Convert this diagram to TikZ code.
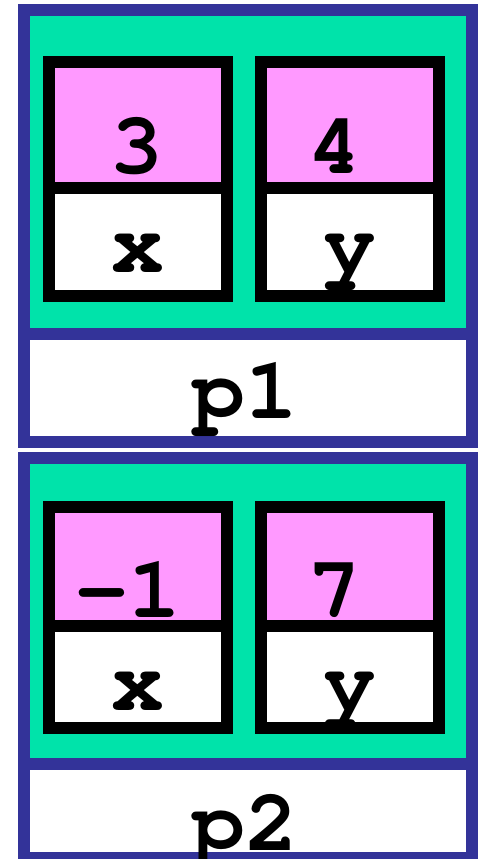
\documentclass[tikz,border=0pt]{standalone}
\usepackage[T1]{fontenc}
\usepackage{courier}
\definecolor{objblue}{RGB}{51,51,153}
\definecolor{objgreen}{RGB}{0,227,170}
\definecolor{valpink}{RGB}{255,153,255}
\begin{document}
\begin{tikzpicture}[x=1pt, y=-1pt, every node/.style={font=\ttfamily\bfseries\fontsize{88}{88}\selectfont, inner sep=0pt}]
\tikzset{
  objbox/.style={draw=objblue, line width=12pt, fill=objgreen},
  namebox/.style={draw=objblue, line width=12pt, fill=white},
  valbox/.style={draw=black, line width=12pt, fill=valpink},
  fieldbox/.style={draw=black, line width=12pt, fill=white}
}
\clip (0,0) rectangle (483,859);
\fill[white] (0,0) rectangle (483,859);

% Object p1 (top)
\draw[objbox] (24,10) rectangle (472,333.5);
\draw[namebox] (24,333.5) rectangle (472,442);
\draw[valbox] (49,62) rectangle (227,188);
\draw[fieldbox] (49,188) rectangle (227,296);
\draw[valbox] (261,62) rectangle (439,188);
\draw[fieldbox] (261,188) rectangle (439,296);

\node[anchor=base] (p1_xval) at (137,173) {3};
\node[anchor=base] (p1_yval) at (335,173) {4};
\node[anchor=base] (p1_x) at (138,272) {x};
\node[anchor=base] (p1_y) at (350,272) {y};
\node[anchor=base] (p1_name) at (245,418) {p1};

% Object p2 (bottom)
\draw[objbox] (24,458) rectangle (472,764);
\draw[namebox] (24,764) rectangle (472,858);
\draw[valbox] (49,507) rectangle (227,626);
\draw[fieldbox] (49,626) rectangle (227,728);
\draw[valbox] (261,507) rectangle (439,626);
\draw[fieldbox] (261,626) rectangle (439,728);

\node[anchor=base] (p2_xval) at (128,617) {-1};
\node[anchor=base] (p2_yval) at (335,617) {7};
\node[anchor=base] (p2_x) at (138,710) {x};
\node[anchor=base] (p2_y) at (350,710) {y};
\node[anchor=base] (p2_name) at (245,850) {p2};

\end{tikzpicture}
\end{document}
